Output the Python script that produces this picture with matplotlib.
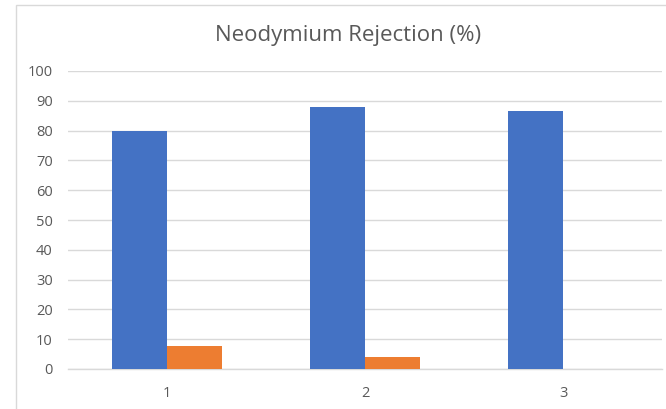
import numpy as np
import matplotlib.pyplot as plt
from matplotlib.patches import Rectangle

plt.rcParams['font.family'] = ['Open Sans', 'DejaVu Sans']

# data
categories = ["1", "2", "3"]
series_a = [79.8, 87.8, 86.6]
series_b = [7.7, 4.0, 0.0]

blue = "#4472C4"
orange = "#ED7D31"
text_col = "#595959"
grid_col = "#D9D9D9"

fig = plt.figure(figsize=(6.66, 4.09), dpi=100)
ax = fig.add_axes([68 / 666, 1 - 369 / 409, (662 - 68) / 666, (369 - 71) / 409])

x = np.arange(len(categories))
w = 0.28
ax.bar(x - w / 2, series_a, width=w, color=blue, zorder=3)
ax.bar(x + w / 2, series_b, width=w, color=orange, zorder=3)

ax.set_xlim(-0.5, len(categories) - 0.5)
ax.set_ylim(0, 100)
ax.set_yticks(np.arange(0, 101, 10))
ax.set_xticks(x)
ax.set_xticklabels(categories)
ax.grid(axis="y", color=grid_col, linewidth=1.0, zorder=0)
ax.tick_params(axis="both", length=0, colors=text_col, labelsize=10.5)
ax.tick_params(axis="y", pad=11)
ax.tick_params(axis="x", pad=12)
for s in ["left", "right", "top"]:
    ax.spines[s].set_visible(False)
ax.spines["bottom"].set_color(grid_col)
ax.spines["bottom"].set_linewidth(1.0)

fig.text(348 / 666, 1 - 35 / 409, "Neodymium Rejection (%)", ha="center", va="center",
         fontsize=16, color=text_col)

# chart border
fig.add_artist(Rectangle((16 / 666, -0.01), 1.0, 1 - 5 / 409 + 0.01, transform=fig.transFigure,
                         fill=False, edgecolor=grid_col, linewidth=1.0))

fig.savefig("out.png", dpi=100)
